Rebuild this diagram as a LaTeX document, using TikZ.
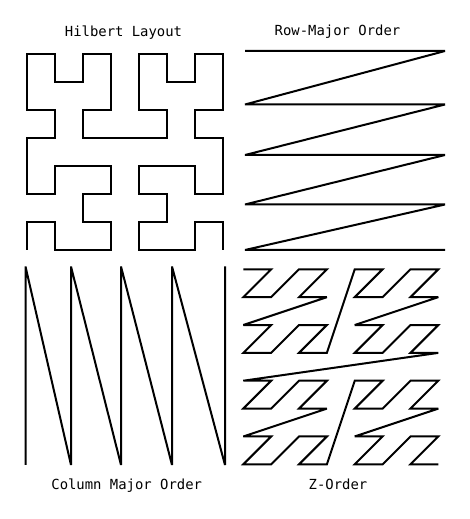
\documentclass[tikz,border=0pt]{standalone}
\usepackage{fontspec}
\setmonofont{DejaVu Sans Mono}

\begin{document}
\begin{tikzpicture}[
    x=1pt, y=1pt,
    curve/.style={line width=2pt, miter limit=3},
    caption/.style={font=\ttfamily\fontsize{13.9}{16}\selectfont, inner sep=0pt, anchor=base}
]
  \useasboundingbox (0,0) rectangle (470,519);

  % Hilbert layout (8x8 grid)
  \begin{scope}[shift={(26.7,269)}, x=28pt, y=28pt]
    \draw[curve] plot coordinates {
      (0,0) (0,1) (1,1) (1,0) (2,0) (3,0) (3,1) (2,1) (2,2) (3,2) (3,3) (2,3) (1,3) (1,2) (0,2) (0,3)
      (0,4) (1,4) (1,5) (0,5) (0,6) (0,7) (1,7) (1,6) (2,6) (2,7) (3,7) (3,6) (3,5) (2,5) (2,4) (3,4)
      (4,4) (5,4) (5,5) (4,5) (4,6) (4,7) (5,7) (5,6) (6,6) (6,7) (7,7) (7,6) (7,5) (6,5) (6,4) (7,4)
      (7,3) (7,2) (6,2) (6,3) (5,3) (4,3) (4,2) (5,2) (5,1) (4,1) (4,0) (5,0) (6,0) (6,1) (7,1) (7,0)};
  \end{scope}

  % Row-major order
  \draw[curve] (245,468) -- (445,468) -- (245,414.5) -- (445,414.5) -- (245,364) -- (445,364)
    -- (245,314.5) -- (445,314.5) -- (245,269) -- (445,269);

  % Column-major order
  \draw[curve] (25.5,54) -- (25.5,252.5) -- (71,54) -- (71,252.5) -- (121,54) -- (121,252.5)
    -- (172,54) -- (172,252.5) -- (225,54) -- (225,252.5);

  % Z-order (Morton, 8x8 grid)
  \begin{scope}[shift={(243.3,249.7)}, x=27.86pt, y=-27.86pt]
    \draw[curve] (0,0) \foreach \k [evaluate={\k as \zx using int(mod(\k,2))+2*int(mod(int(\k/4),2))+4*int(mod(int(\k/16),2))},
                                    evaluate={\k as \zy using int(mod(int(\k/2),2))+2*int(mod(int(\k/8),2))+4*int(mod(int(\k/32),2))}]
      in {1,...,63} { -- (\zx,\zy) };
  \end{scope}

  % Panel titles
  \node[caption] (hilbertlabel) at (123.5,482.5) {Hilbert Layout};
  \node[caption] (rowlabel) at (337.5,483) {Row-Major Order};
  \node[caption] (columnlabel) at (126.7,29.5) {Column Major Order};
  \node[caption] (zlabel) at (338,29.5) {Z-Order};
\end{tikzpicture}
\end{document}
